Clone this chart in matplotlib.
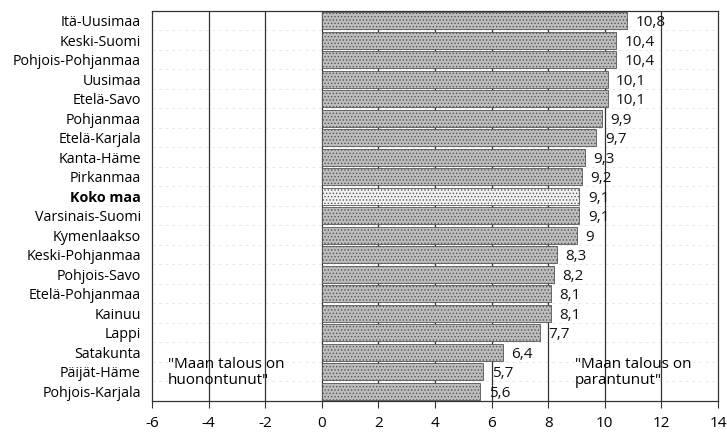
import matplotlib
matplotlib.use("Agg")
import matplotlib.pyplot as plt
import numpy as np

regions = ["Itä-Uusimaa", "Keski-Suomi", "Pohjois-Pohjanmaa", "Uusimaa", "Etelä-Savo",
           "Pohjanmaa", "Etelä-Karjala", "Kanta-Häme", "Pirkanmaa", "Koko maa",
           "Varsinais-Suomi", "Kymenlaakso", "Keski-Pohjanmaa", "Pohjois-Savo",
           "Etelä-Pohjanmaa", "Kainuu", "Lappi", "Satakunta", "Päijät-Häme", "Pohjois-Karjala"]
values = [10.8, 10.4, 10.4, 10.1, 10.1, 9.9, 9.7, 9.3, 9.2, 9.1,
          9.1, 9.0, 8.3, 8.2, 8.1, 8.1, 7.7, 6.4, 5.7, 5.6]
value_labels = ["10,8", "10,4", "10,4", "10,1", "10,1", "9,9", "9,7", "9,3", "9,2", "9,1",
                "9,1", "9", "8,3", "8,2", "8,1", "8,1", "7,7", "6,4", "5,7", "5,6"]
xticks = [-6, -4, -2, 0, 2, 4, 6, 8, 10, 12, 14]
highlight = "Koko maa"

plt.rcParams['font.family'] = ['Open Sans', 'DejaVu Sans']
plt.rcParams['hatch.color'] = '#8c8c8c'
plt.rcParams['hatch.linewidth'] = 0.6

fig = plt.figure(figsize=(7.27, 4.32), dpi=100)
ax = fig.add_axes([152/727, 1 - 401/432, (718-152)/727, (401-11)/432])

n = len(regions)
y = np.arange(n)
colors = ['#f2f2f2' if r == highlight else '#bdbdbd' for r in regions]
for i in range(n - 1):
    ax.axhline(i + 0.5, color='#e2e2e2', lw=0.6, ls=(0, (3, 5)), zorder=0)
for xv in [-4, -2, 0, 2, 4, 6, 8, 10, 12]:
    ax.axvline(xv, color='#333333', lw=0.9, zorder=1)
ax.barh(y, values, height=0.86, color=colors, edgecolor='#555555', linewidth=0.6,
        hatch='.....', zorder=2)
for yi, v, lab in zip(y, values, value_labels):
    ax.text(v + 0.3, yi + 0.1, lab, va='center', ha='left', fontsize=11, color='#111111', zorder=3)

ax.set_xlim(-6, 14)
ax.set_ylim(n - 0.5, -0.5)
ax.set_xticks(xticks)
ax.set_xticklabels([str(t) for t in xticks], fontsize=11)
ax.set_yticks(y)
ax.set_yticklabels(regions, fontsize=10.3)
for lab in ax.get_yticklabels():
    if lab.get_text() == highlight:
        lab.set_fontweight('bold')
ax.tick_params(axis='y', length=0, pad=8)
ax.tick_params(axis='x', length=5, width=0.8, pad=6, color='#333333')
for s in ax.spines.values():
    s.set_color('#333333')
    s.set_linewidth(0.9)

ax.text(-5.45, 18.05, '"Maan talous on\nhuonontunut"', fontsize=11, va='center', ha='left',
        linespacing=1.05, zorder=3)
ax.text(8.95, 18.05, '"Maan talous on\nparantunut"', fontsize=11, va='center', ha='left',
        linespacing=1.05, zorder=3)

fig.savefig("out.png", dpi=100)
